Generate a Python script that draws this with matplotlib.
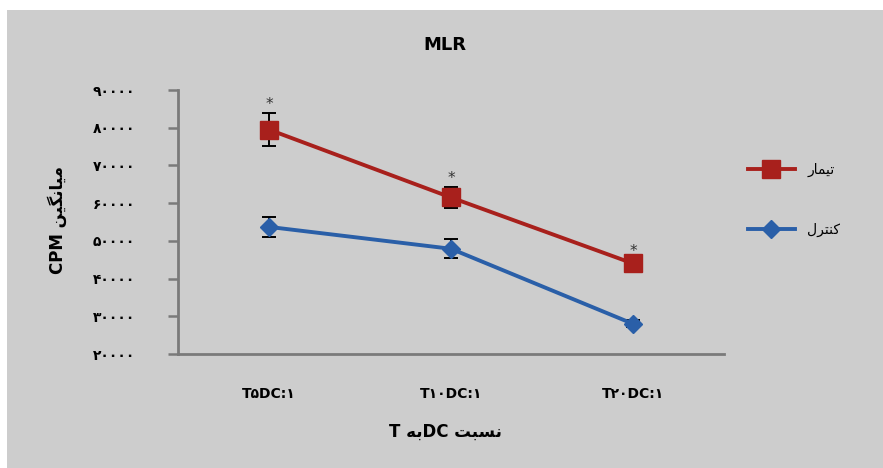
import numpy as np
import matplotlib
matplotlib.use('Agg')
import matplotlib.pyplot as plt
from matplotlib.patches import Rectangle

plt.rcParams['font.family'] = ['DejaVu Sans']

# data
categories = ['T\u06F5DC:\u06F1', 'T\u06F1\u06F0DC:\u06F1', 'T\u06F2\u06F0DC:\u06F1']
treat_mean = [79500, 61500, 44000]
treat_err = [4300, 2700, 900]
control_mean = [53700, 47900, 28000]
control_err = [2700, 2500, 900]
y_ticks = [20000, 30000, 40000, 50000, 60000, 70000, 80000, 90000]

# Arabic text in visual order with presentation forms (no shaping engine here)
label_treat = '\uFEAD\uFE8E\uFEE4\uFBFF\uFE97'          # تیمار
label_control = '\uFEDD\uFEAE\uFE98\uFEE8\uFB90'        # کنترل
xlab = 'T \uFEEA\uFE91DC \uFE96\uFE92\uFEB4\uFEE7'      # نسبت DC به T
ylab = 'CPM \uFEE6\uFBFF\uFB95\uFEE7\uFE8E\uFBFF\uFEE3'  # میانگین CPM

persian = str.maketrans('0123456789', '\u06F0\u06F1\u06F2\u06F3\u06F4\u06F5\u06F6\u06F7\u06F8\u06F9')

red = '#a8201c'
blue = '#2a5fa8'
bg = '#cdcdcd'

fig = plt.figure(figsize=(8.83, 4.68), dpi=100)
fig.patch.set_facecolor('white')
fig.patches.append(Rectangle((7 / 883, 0), 1, 458 / 468, transform=fig.transFigure,
                             facecolor=bg, edgecolor='none', zorder=-5))

ax = fig.add_axes([178 / 883, 1 - 354 / 468, (724 - 178) / 883, (354 - 90) / 468])
ax.set_facecolor('none')
ax.set_zorder(2)

x = np.arange(len(categories))
ax.errorbar(x, treat_mean, yerr=treat_err, fmt='none', ecolor='black', elinewidth=1.4,
            capsize=5, capthick=1.4, zorder=2)
ax.errorbar(x, control_mean, yerr=control_err, fmt='none', ecolor='black', elinewidth=1.4,
            capsize=5, capthick=1.4, zorder=2)
ax.plot(x, treat_mean, color=red, lw=2.8, marker='s', ms=13, mfc=red, mec=red,
        label=label_treat, zorder=3)
ax.plot(x, control_mean, color=blue, lw=2.8, marker='D', ms=9, mfc=blue, mec=blue,
        label=label_control, zorder=3)

for xi, m, e in zip(x, treat_mean, treat_err):
    ax.text(xi, m + e + 400, '*', ha='center', va='bottom', fontsize=11, color='#333333')

ax.set_xlim(-0.5, 2.5)
ax.set_ylim(20000, 90000)
ax.set_yticks(y_ticks)
ax.set_yticklabels([str(v).translate(persian) for v in y_ticks], fontsize=10, fontweight='bold')
ax.set_xticks(x)
ax.set_xticklabels(categories, fontsize=10, fontweight='bold')
ax.tick_params(axis='x', length=0, pad=24)
ax.tick_params(axis='y', length=7, width=1.8, color='#7a7a7a', pad=24)

for s in ['top', 'right']:
    ax.spines[s].set_visible(False)
for s in ['left', 'bottom']:
    ax.spines[s].set_color('#7a7a7a')
    ax.spines[s].set_linewidth(2)

fig.text(445 / 883, 1 - 45 / 468, 'MLR', ha='center', va='center', fontsize=13, fontweight='bold')
fig.text(445 / 883, 1 - 432 / 468, xlab, ha='center', va='center', fontsize=12, fontweight='bold')
fig.text(57 / 883, 1 - 220 / 468, ylab, ha='center', va='center', rotation=90, fontsize=12,
         fontweight='bold')

handles, labels = ax.get_legend_handles_labels()
leg = fig.legend(handles, labels, loc='upper left', bbox_to_anchor=(735 / 883, 1 - 150 / 468),
                 frameon=False, handlelength=3.4, labelspacing=3.3, fontsize=10,
                 handletextpad=0.9)

fig.savefig('out.png', dpi=100, facecolor=fig.get_facecolor())
